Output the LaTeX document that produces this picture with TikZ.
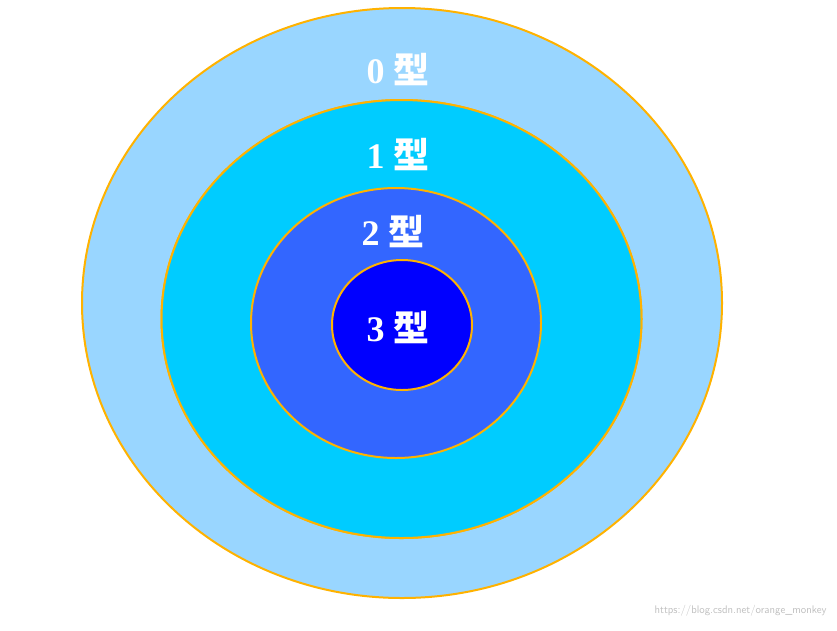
\documentclass[tikz,border=0pt]{standalone}
\usepackage{fontspec}
\setmainfont{Liberation Serif}
\newfontfamily\cjk{Noto Sans CJK SC}
\begin{document}
\begin{tikzpicture}[x=1pt,y=-1pt]
\tikzset{ring/.style={draw=orange!60!yellow,line width=2pt},
  typ/.style={text=white,font=\fontsize{36}{40}\selectfont\bfseries}}
\useasboundingbox (0,0) rectangle (837,630);
\draw[ring,fill=blue!40!cyan!40] (402,303) ellipse [x radius=320,y radius=295];
\draw[ring,fill=cyan!80!blue!20] (401.5,319) ellipse [x radius=240,y radius=219];
\draw[ring,fill=cyan!80!blue!20,fill={rgb,255:red,0;green,204;blue,255}] (401.5,319) ellipse [x radius=240,y radius=219];
\draw[ring,fill={rgb,255:red,51;green,102;blue,255}] (396,323) ellipse [x radius=145,y radius=135];
\draw[ring,fill={rgb,255:red,0;green,0;blue,255}] (402,325) ellipse [x radius=70,y radius=65];
\node[typ] (t0) at (398,70) {0 {\cjk 型}};
\node[typ] (t1) at (398,155) {1 {\cjk 型}};
\node[typ] (t2) at (393,232) {2 {\cjk 型}};
\node[typ] (t3) at (398,328) {3 {\cjk 型}};
\node[text=gray!50,font=\fontsize{11}{12}\sffamily,anchor=east] (wm) at (830,611) {https://blog.csdn.net/orange\_monkey};
\end{tikzpicture}
\end{document}
